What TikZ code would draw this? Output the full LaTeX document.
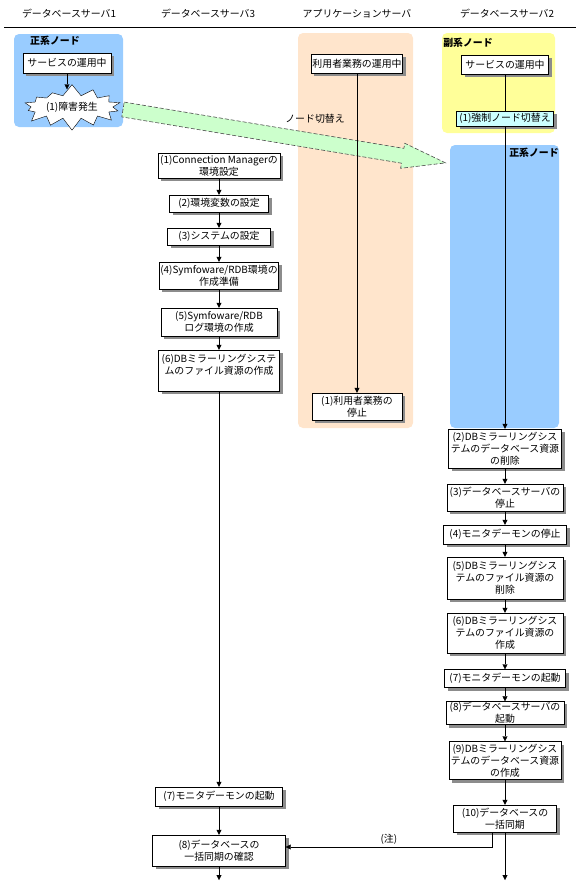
\documentclass[tikz,border=0pt]{standalone}
\usepackage{fontspec}
\setmainfont{Noto Sans CJK JP}
\usetikzlibrary{arrows.meta,shadows,shapes.symbols}
\definecolor{primblue}{HTML}{99CCFF}
\definecolor{apppeach}{HTML}{FFE5CC}
\definecolor{subyellow}{HTML}{FFFF99}
\definecolor{switchgreen}{HTML}{CCFFCC}
\definecolor{forcecyan}{HTML}{CCFFFF}

\begin{document}
\begin{tikzpicture}[x=1pt,y=-1pt,
    font=\fontsize{9.9}{11.8}\selectfont,
    proc/.style={draw, fill=white, align=center, inner sep=1pt,
      drop shadow={shadow xshift=3pt, shadow yshift=-3pt, fill=black!45, opacity=1}},
    arr/.style={-{Triangle[length=5pt,width=5pt]}},
    region/.style={rounded corners=5pt},
    regionlabel/.style={font=\fontsize{9.9}{11.8}\selectfont\bfseries}]
    \useasboundingbox (0,0) rectangle (578,884);

    % Server headers
    \node (h1) at (69,14) {データベースサーバ1};
    \node (h3) at (208,14) {データベースサーバ3};
    \node (ha) at (357,14) {アプリケーションサーバ};
    \node (h2) at (507,14) {データベースサーバ2};
    \draw (4,27) -- (576,27);

    % Node regions
    \fill[primblue, region] (14,34) rectangle (123,127);
    \fill[apppeach, region] (298,33) rectangle (413,428);
    \fill[subyellow, region] (442,33) rectangle (555,133);
    \fill[primblue, region] (450,145) rectangle (559,428);
    \node[regionlabel] (lp1) at (55,41) {正系ノード};
    \node[regionlabel] (ls2) at (468,43) {副系ノード};
    \node[regionlabel] (lp2) at (534,153) {正系ノード};

    % Node switch arrow
    \draw[dash pattern=on 4pt off 2pt, draw=black!70, fill=switchgreen, line width=0.6pt]
        (124.2,102.1) -- (403.9,148.4) -- (404.8,143.3) -- (445.6,162.9)
        -- (400.6,168.3) -- (401.5,163.2) -- (121.8,116.9) -- cycle;
    \node (lsw) at (315,119) {ノード切替え};

    % Database server 1
    \node[proc, minimum width=88, minimum height=20] (s1) at (67,63) {サービスの運用中};
    \node[starburst, draw, fill=white, starburst points=14, starburst point height=12pt,
          random starburst=7, inner sep=3pt] (fail) at (72,107) {(1)障害発生};

    % Application server
    \node[proc, minimum width=89, minimum height=19] (a1) at (357,63.5) {利用者業務の運用中};
    \node[proc, minimum width=90, minimum height=27] (a2) at (357,406.5) {(1)利用者業務の\\停止};

    % Database server 3
    \node[proc, minimum width=122, minimum height=25] (c1) at (219,165.5) {(1)Connection Managerの\\環境設定};
    \node[proc, minimum width=99, minimum height=17] (c2) at (219,203.5) {(2)環境変数の設定};
    \node[proc, minimum width=103, minimum height=17] (c3) at (219,236.5) {(3)システムの設定};
    \node[proc, minimum width=116, minimum height=27] (c4) at (219,275.5) {(4)Symfoware/RDB環境の\\作成準備};
    \node[proc, minimum width=116, minimum height=28] (c5) at (219,322) {(5)Symfoware/RDB\\ログ環境の作成};
    \node[proc, minimum width=121, minimum height=41] (c6) at (219,370.5) {(6)DBミラーリングシステ\\ムのファイル資源の作成\\\mbox{}};
    \node[proc, minimum width=127, minimum height=19] (c7) at (219,796.5) {(7)モニタデーモンの起動};
    \node[proc, minimum width=133, minimum height=31] (c8) at (219,850.5) {(8)データベースの\\一括同期の確認};

    % Database server 2
    \node[proc, minimum width=87, minimum height=19] (s2) at (505,64.5) {サービスの運用中};
    \node[proc, fill=forcecyan, minimum width=97, minimum height=15] (f1) at (505,118.5) {(1)強制ノード切替え};
    \node[proc, minimum width=113, minimum height=39] (r2) at (505,448.5) {(2)DBミラーリングシス\\テムのデータベース資源\\の削除};
    \node[proc, minimum width=116, minimum height=27] (r3) at (505,497.5) {(3)データベースサーバの\\停止};
    \node[proc, minimum width=123, minimum height=19] (r4) at (505,534.5) {(4)モニタデーモンの停止};
    \node[proc, minimum width=116, minimum height=42] (r5) at (505,578) {(5)DBミラーリングシス\\テムのファイル資源の\\削除};
    \node[proc, minimum width=116, minimum height=40] (r6) at (505,633) {(6)DBミラーリングシス\\テムのファイル資源の\\作成};
    \node[proc, minimum width=121, minimum height=18] (r7) at (505,678.5) {(7)モニタデーモンの起動};
    \node[proc, minimum width=118, minimum height=23] (r8) at (505,713) {(8)データベースサーバの\\起動};
    \node[proc, minimum width=112, minimum height=38] (r9) at (505,760.5) {(9)DBミラーリングシス\\テムのデータベース資源\\の作成};
    \node[proc, minimum width=103, minimum height=27] (r10) at (505,818.5) {(10)データベースの\\一括同期};

    % Flow
    \draw[arr] (s1.south) -- ([yshift=-5pt]s1.south |- fail.north);
    \draw[arr] (a1) -- (a2);
    \foreach \from/\to in {c1/c2, c2/c3, c3/c4, c4/c5, c5/c6, c6/c7, c7/c8,
                           r2/r3, r3/r4, r4/r5, r5/r6, r6/r7, r7/r8, r8/r9, r9/r10}
        \draw[arr] (\from) -- (\to);
    \draw (s2) -- (f1);
    \draw[arr] (f1) -- (r2);
    \coordinate (end3) at (219,880);
    \coordinate (end2) at (505,880);
    \draw[arr] (c8) -- (end3);
    \draw[arr] (r10) -- (end2);
    \draw[arr] ([xshift=-13pt]r10.south) |- ([yshift=3.5pt]c8.east)
        node[pos=0.75, above, yshift=-1pt] (note) {(注)};
\end{tikzpicture}
\end{document}
